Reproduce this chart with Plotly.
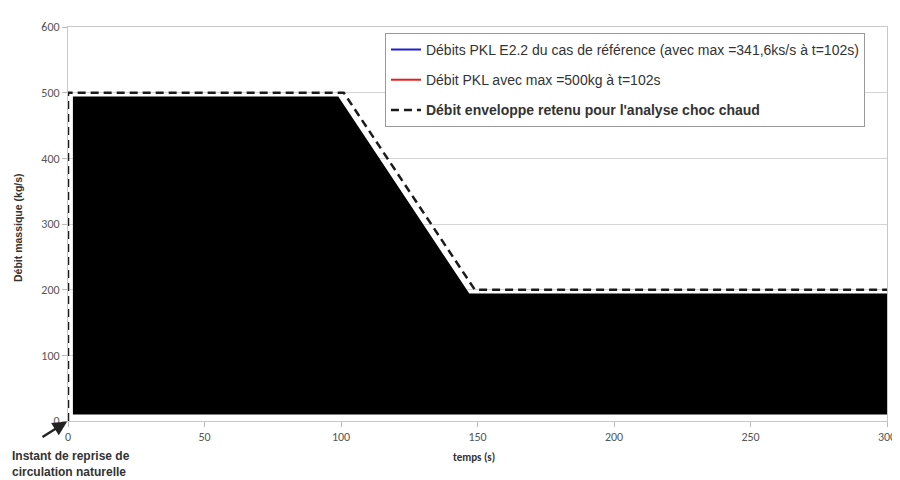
import plotly.graph_objects as go

# Data
fill_t = [1.8, 1.8, 99, 147, 300, 300]
fill_q = [10, 494, 494, 194, 194, 10]
env_t = [0, 0, 101, 149, 300]
env_q = [0, 500, 500, 200, 200]
legend_names = [
    "Débits PKL E2.2 du cas de référence (avec max =341,6ks/s à t=102s)",
    "Débit PKL avec max =500kg à t=102s",
    "<b>Débit enveloppe retenu pour l'analyse choc chaud</b>",
]
x_ticks = [0, 50, 100, 150, 200, 250, 300]
y_ticks = [0, 100, 200, 300, 400, 500, 600]

FONT = "Carlito, Lato, 'Liberation Sans', Arial, sans-serif"
ARIAL = "'Liberation Sans', Arial, sans-serif"

fig = go.Figure()

fig.add_trace(go.Scatter(
    x=fill_t, y=fill_q, fill="toself", fillcolor="black",
    mode="lines", line=dict(width=0, color="black"), showlegend=False,
    hoverinfo="skip",
))
fig.add_trace(go.Scatter(
    x=[None], y=[None], mode="lines", name=legend_names[0],
    line=dict(color="#1f1fd0", width=2), legendgroup="a",
))
fig.add_trace(go.Scatter(
    x=[None], y=[None], mode="lines", name=legend_names[1],
    line=dict(color="#e0201e", width=2), legendgroup="b",
))
fig.add_trace(go.Scatter(
    x=env_t, y=env_q, mode="lines", name=legend_names[2],
    line=dict(color="#1a1a1a", width=2.5, dash="8px,5px"), legendgroup="c",
))

fig.update_layout(
    width=900, height=480,
    margin=dict(l=60, r=19, t=15, b=67),
    paper_bgcolor="white", plot_bgcolor="white",
    font=dict(family=FONT, color="#444", size=12),
    legend=dict(
        x=0.387, y=0.985, xanchor="left", yanchor="top",
        bgcolor="white", bordercolor="#999", borderwidth=1,
        font=dict(size=14, color="#333", family=ARIAL),
        tracegroupgap=9, itemwidth=30,
    ),
    xaxis=dict(
        range=[0, 300], tickvals=x_ticks, ticks="outside", ticklen=5,
        tickcolor="#bbb", showline=True, linecolor="#c8c8c8", linewidth=1,
        showgrid=False, zeroline=False, mirror=True,
        tickfont=dict(size=12, color="#555"),
    ),
    yaxis=dict(
        range=[0, 600], tickvals=y_ticks, ticks="outside", ticklen=5,
        tickcolor="#bbb", showline=True, linecolor="#c8c8c8", linewidth=1,
        showgrid=True, gridcolor="#d4d4d4", zeroline=False, mirror=True,
        tickfont=dict(size=12, color="#555"),
    ),
    annotations=[
        dict(text="<b>temps (s)</b>", xref="paper", yref="paper",
             x=0.496, y=-0.093, xanchor="center", yanchor="middle",
             showarrow=False, font=dict(size=11, color="#333")),
        dict(text="<b>Débit massique (kg/s)</b>", xref="paper", yref="paper",
             x=-0.061, y=0.49, xanchor="center", yanchor="middle",
             textangle=-90, showarrow=False,
             font=dict(size=10.5, color="#333", family=ARIAL)),
        dict(text="<b>Instant de reprise de<br>circulation naturelle</b>",
             xref="paper", yref="paper", x=-0.071, y=-0.066,
             xanchor="left", yanchor="top", align="left", showarrow=False,
             font=dict(size=12, color="#333", family=ARIAL)),
        dict(x=0, y=0, xref="x", yref="y", ax=-27, ay=17, text="",
             showarrow=True, arrowhead=2, arrowsize=1.2, arrowwidth=2.4,
             arrowcolor="#222", standoff=1),
    ],
)

fig.write_html("out.html")
